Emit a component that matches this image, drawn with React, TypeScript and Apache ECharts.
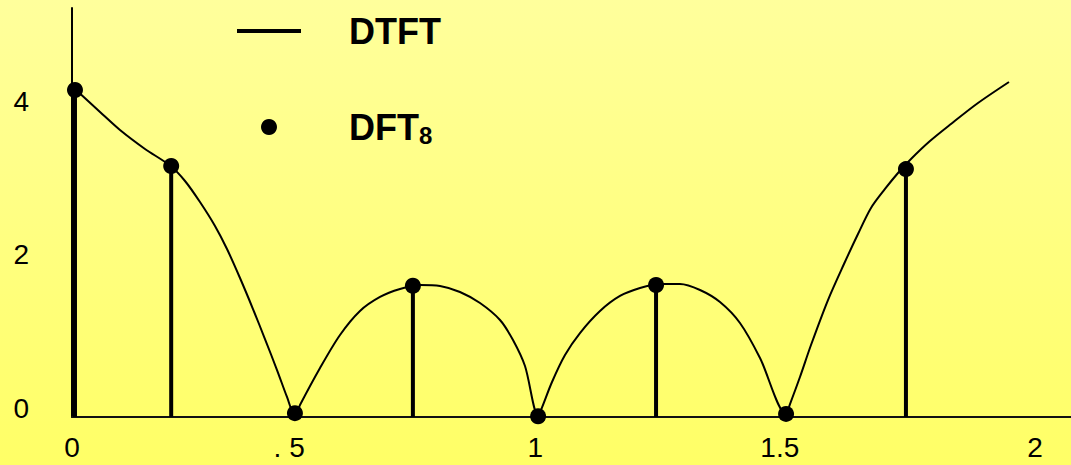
import React, { useEffect, useRef } from "react";
import * as echarts from "echarts";

// DTFT magnitude curve (x in units of pi)
const curveX = [
  0.0062, 0.0582, 0.0997, 0.1516, 0.2035,
  0.2347, 0.2658, 0.297, 0.3219, 0.3489, 0.3759, 0.4008, 0.4258, 0.4465, 0.4631,
  0.4735, 0.5151, 0.5566, 0.5981, 0.6397, 0.6812, 0.7227, 0.7643, 0.8058, 0.8474, 0.8889, 0.9159, 0.9408, 0.9678,
  0.974, 0.9969, 1.0239, 1.055, 1.0966, 1.1381, 1.1797, 1.2212, 1.2627, 1.3043, 1.3458, 1.3873, 1.4289, 1.4829,
  1.4912, 1.5119, 1.5348, 1.5701, 1.6033, 1.6324, 1.6594, 1.6885, 1.7155, 1.7425, 1.7819, 1.8255, 1.8816, 1.946,
];
const curveY = [
  4.274, 3.974, 3.739, 3.492, 3.276,
  3.075, 2.801, 2.489, 2.189, 1.811, 1.407, 1.016, 0.612, 0.261, 0.013,
  0.156, 0.638, 1.068, 1.381, 1.564, 1.668, 1.72, 1.707, 1.629, 1.485, 1.264, 1.003, 0.664, 0.02,
  0.091, 0.456, 0.808, 1.094, 1.381, 1.577, 1.681, 1.733, 1.733, 1.655, 1.498, 1.225, 0.769, 0.039,
  0.169, 0.521, 0.938, 1.524, 1.993, 2.384, 2.723, 2.971, 3.179, 3.362, 3.596, 3.818, 4.091, 4.365,
];

// DFT_8 samples
const dftX = [0.0062, 0.206, 0.463, 0.708, 0.968, 1.213, 1.483, 1.732];
const dftY = [4.26, 3.27, 0.05, 1.71, 0.01, 1.72, 0.04, 3.23];

// axis tick labels
const xTickValues = [0, 0.451, 0.962, 1.47, 2];
const xTickLabels = ["0", ". 5", "1", "1.5", "2"];
const yTickValues = [0, 2, 4];

const FONT = "'Liberation Sans', Arial, sans-serif";

export default function App() {
  const ref = useRef<HTMLDivElement>(null);
  useEffect(() => {
    if (!ref.current) return;
    const chart = echarts.init(ref.current, null, { renderer: "svg" });
    const curve = curveX.map((x, i) => [x, curveY[i]]);
    const dft = dftX.map((x, i) => [x, dftY[i]]);
    chart.setOption({
      animation: false,
      backgroundColor: new echarts.graphic.LinearGradient(0, 0, 0, 1, [
        { offset: 0, color: "#FFFF9C" },
        { offset: 1, color: "#FFFF66" },
      ]),
      grid: { left: 72, right: 0, top: 8, bottom: 48 },
      legend: {
        data: [
          { name: "DTFT", icon: "path://M0 0H64V4H0Z" },
          { name: "DFT8", icon: "circle" },
        ],
        orient: "vertical",
        left: 232,
        top: 8,
        itemWidth: 64,
        itemHeight: 16,
        itemGap: 58,
        selectedMode: false,
        itemStyle: { color: "#000", opacity: 1 },
        formatter: (name: string) => (name === "DFT8" ? "{n|DFT}{s|8}" : "{n|DTFT}"),
        textStyle: {
          rich: {
            n: {
              fontSize: 36,
              fontWeight: "bold",
              fontFamily: FONT,
              color: "#000",
              padding: [0, 0, 0, 43],
              lineHeight: 40,
            },
            s: {
              fontSize: 24,
              fontWeight: "bold",
              fontFamily: FONT,
              color: "#000",
              padding: [16, 0, 0, 0],
              lineHeight: 40,
            },
          },
        },
      },
      xAxis: {
        type: "value",
        min: 0,
        max: 2.0748,
        axisLine: { show: true, onZero: false, lineStyle: { color: "#111", width: 2 } },
        axisTick: { show: false },
        splitLine: { show: false },
        axisLabel: {
          customValues: xTickValues,
          formatter: (v: number) => {
            const i = xTickValues.findIndex((t) => Math.abs(t - v) < 1e-6);
            return i >= 0 ? xTickLabels[i] : "";
          },
          fontSize: 28,
          fontFamily: FONT,
          color: "#000",
          margin: 16,
          showMinLabel: true,
          showMaxLabel: true,
        },
      },
      yAxis: {
        type: "value",
        min: 0,
        max: 5.329,
        axisLine: { show: true, lineStyle: { color: "#000", width: 2 } },
        axisTick: { show: false },
        splitLine: { show: false },
        axisLabel: {
          customValues: yTickValues,
          fontSize: 28,
          fontFamily: FONT,
          color: "#000",
          margin: 43,
          verticalAlign: "bottom",
          lineHeight: 18,
        },
      },
      series: [
        {
          name: "stems",
          type: "bar",
          data: dft,
          barWidth: 4,
          itemStyle: { color: "#000" },
          z: 2,
        },
        {
          name: "DTFT",
          type: "line",
          data: curve,
          symbol: "none",
          smooth: 0.3,
          lineStyle: { color: "#000", width: 2 },
          itemStyle: { color: "#000" },
          z: 3,
        },
        {
          name: "DFT8",
          type: "scatter",
          data: dft,
          symbol: "circle",
          symbolSize: 16,
          itemStyle: { color: "#000", opacity: 1 },
          z: 4,
        },
      ],
    });
    return () => chart.dispose();
  }, []);
  return (
    <div
      ref={ref}
      style={{ position: "fixed", left: 0, top: 0, width: 1071, height: 465 }}
    />
  );
}
